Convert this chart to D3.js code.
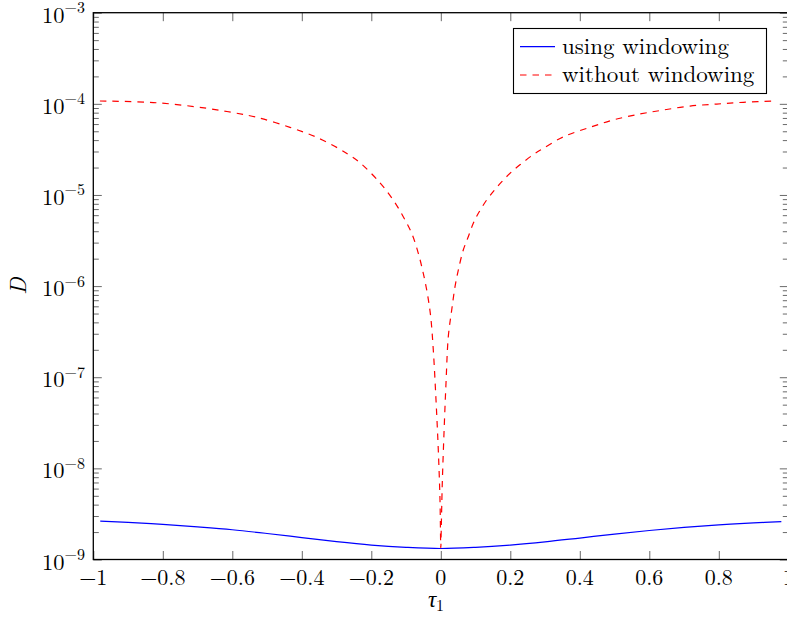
<!DOCTYPE html>
<html>
<head>
<meta charset="utf-8">
<script src="https://cdn.jsdelivr.net/npm/d3@7"></script>
<style>
  html, body { margin: 0; padding: 0; background: #fff; }
  svg { display: block; }
</style>
</head>
<body>
<svg id="chart" width="787" height="621"></svg>
<script>
// ---- data ----
const xTicks = [-1, -0.8, -0.6, -0.4, -0.2, 0, 0.2, 0.4, 0.6, 0.8, 1];
const yExponents = [-9, -8, -7, -6, -5, -4, -3];

const tauWindowed = [-0.98, -0.9, -0.8, -0.7, -0.6, -0.5, -0.4, -0.3, -0.2, -0.1, 0, 0.1, 0.2, 0.3, 0.4, 0.5, 0.6, 0.7, 0.8, 0.9, 0.98];
const dWindowed = [2.64e-9, 2.55e-9, 2.43e-9, 2.28e-9, 2.12e-9, 1.93e-9, 1.74e-9, 1.57e-9, 1.44e-9, 1.36e-9, 1.32e-9, 1.36e-9, 1.44e-9, 1.56e-9, 1.72e-9, 1.90e-9, 2.08e-9, 2.25e-9, 2.40e-9, 2.52e-9, 2.60e-9];

const tauPlain = [-0.981, -0.818, -0.673, -0.597, -0.530, -0.434, -0.357, -0.290, -0.261, -0.233, -0.175, -0.137, -0.108, -0.0837, -0.0647, -0.0504, -0.0388, -0.0291, -0.0216, -0.0138, -0.0072, -0.0023, 0,
                  0.0014, 0.0043, 0.0092, 0.0150, 0.0216, 0.0314, 0.0409, 0.0504, 0.0647, 0.0791, 0.0935, 0.108, 0.132, 0.156, 0.175, 0.204, 0.233, 0.271, 0.295, 0.353, 0.429, 0.496, 0.573, 0.640, 0.717, 0.794, 0.871, 0.967];
const dPlain = [1.074e-4, 1.028e-4, 8.93e-5, 8.0e-5, 7.12e-5, 5.52e-5, 4.29e-5, 3.17e-5, 2.70e-5, 2.27e-5, 1.36e-5, 8.81e-6, 5.77e-6, 3.79e-6, 2.29e-6, 1.38e-6, 8.33e-7, 4.62e-7, 1.99e-7, 5.62e-8, 1.59e-8, 4.5e-9, 1.34e-9,
                2.27e-9, 6.9e-9, 2.44e-8, 8.65e-8, 2.79e-7, 5.47e-7, 9.85e-7, 1.50e-6, 2.49e-6, 3.48e-6, 4.89e-6, 6.29e-6, 8.81e-6, 1.15e-5, 1.39e-5, 1.80e-5, 2.22e-5, 2.86e-5, 3.25e-5, 4.35e-5, 5.52e-5, 6.65e-5, 7.73e-5, 8.55e-5, 9.46e-5, 9.95e-5, 1.04e-4, 1.074e-4];

const seriesNames = ["using windowing", "without windowing"];
const seriesColors = ["#0000ff", "#ff0000"];

// ---- layout ----
const FONT = '"Latin Modern Roman"';
const L = 93.3, R = 788.3, T = 12.7, B = 559.5;
const svg = d3.select("#chart");

const x = d3.scaleLinear().domain([-1, 1]).range([L, R]);
const y = d3.scaleLog().domain([1e-9, 1e-3]).range([B, T]);

const fmt = v => (v < 0 ? "\u2212" : "") + String(Math.abs(v));

// minor y ticks
const minorY = [];
yExponents.slice(0, -1).forEach(e => { for (let m = 2; m <= 9; m++) minorY.push(m * Math.pow(10, e)); });

const tickColor = "#6a6a6a";
const majorLen = 8.5, minorLen = 5.5;

function tickGroup(axisFn, scale, values, len, tx, ty) {
  svg.append("g").attr("transform", `translate(${tx},${ty})`)
    .call(axisFn(scale).tickValues(values).tickSize(-len).tickFormat(""))
    .call(g => g.select(".domain").remove())
    .call(g => g.selectAll("line").attr("stroke", tickColor));
}
const majorY = yExponents.map(e => Math.pow(10, e));
tickGroup(d3.axisLeft, y, majorY, majorLen, L, 0);
tickGroup(d3.axisLeft, y, minorY, minorLen, L, 0);
tickGroup(d3.axisRight, y, majorY, majorLen, R, 0);
tickGroup(d3.axisRight, y, minorY, minorLen, R, 0);
tickGroup(d3.axisBottom, x, xTicks, majorLen, 0, B);
tickGroup(d3.axisTop, x, xTicks, majorLen, 0, T);

// data lines
svg.append("clipPath").attr("id", "clip")
  .append("rect").attr("x", L).attr("y", T).attr("width", R - L).attr("height", B - T);

const line = d3.line().x(d => x(d[0])).y(d => y(d[1])).curve(d3.curveCatmullRom.alpha(0.5));
const plot = svg.append("g").attr("clip-path", "url(#clip)");
plot.append("path")
  .datum(tauWindowed.map((t, i) => [t, dWindowed[i]]))
  .attr("d", line).attr("fill", "none").attr("stroke", seriesColors[0]).attr("stroke-width", 1.2);
plot.append("path")
  .datum(tauPlain.map((t, i) => [t, dPlain[i]]))
  .attr("d", line).attr("fill", "none").attr("stroke", seriesColors[1]).attr("stroke-width", 1.2)
  .attr("stroke-dasharray", "6.5,6");

// frame
svg.append("rect").attr("x", L).attr("y", T).attr("width", R - L).attr("height", B - T)
  .attr("fill", "none").attr("stroke", "#000").attr("stroke-width", 1.3);

// x tick labels
svg.append("g").selectAll("text").data(xTicks).join("text")
  .style("font-family", FONT)
  .attr("x", d => x(d)).attr("y", 584.5)
  .attr("text-anchor", "middle").attr("font-size", 22)
  .text(d => fmt(d));

// y tick labels 10^k
const yl = svg.append("g").selectAll("text").data(yExponents).join("text")
  .style("font-family", FONT)
  .attr("x", 85).attr("y", d => y(Math.pow(10, d)) + 10)
  .attr("text-anchor", "end").attr("font-size", 22.5);
yl.append("tspan").text("10");
yl.append("tspan").attr("dy", -9.5).attr("font-size", 16).text(d => "\u2212" + Math.abs(d));

// axis titles
svg.append("text").style("font-family", FONT)
  .attr("transform", `translate(26,${(T + B) / 2}) rotate(-90)`)
  .attr("text-anchor", "middle").attr("font-size", 23).attr("font-style", "italic").text("D");
const xt = svg.append("text").style("font-family", FONT)
  .attr("x", 436).attr("y", 607).attr("text-anchor", "middle").attr("font-size", 23);
xt.append("tspan").attr("font-style", "italic").text("\u03C4");
xt.append("tspan").attr("dy", 4).attr("font-size", 16).text("1");

// legend
const lg = svg.append("g");
lg.append("rect").attr("x", 513.5).attr("y", 28.5).attr("width", 253).attr("height", 65)
  .attr("fill", "#fff").attr("stroke", "#000").attr("stroke-width", 1.1);
const legY = [46.7, 75];
seriesNames.forEach((name, i) => {
  lg.append("line").attr("x1", 520).attr("x2", 555).attr("y1", legY[i]).attr("y2", legY[i])
    .attr("stroke", seriesColors[i]).attr("stroke-width", 1.2)
    .attr("stroke-dasharray", i === 1 ? "6.5,6" : null);
  lg.append("text").style("font-family", FONT)
    .attr("x", 562).attr("y", legY[i] + 7).attr("font-size", 23)
    .text(name);
});
</script>
</body>
</html>
